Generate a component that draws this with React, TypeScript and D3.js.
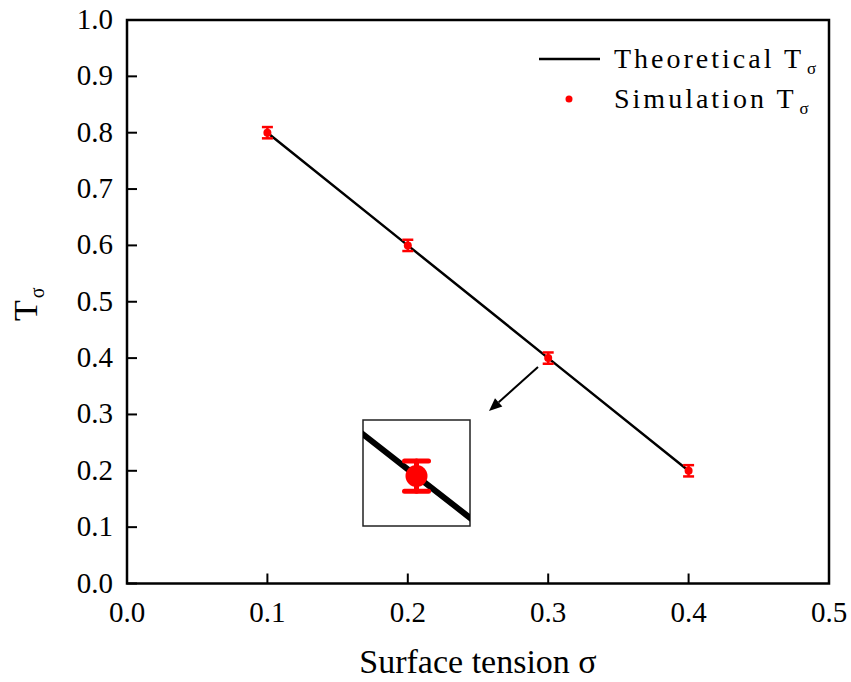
import React from "react";
import * as d3 from "d3";

const sigmaValues = [0.1, 0.2, 0.3, 0.4];
const theoreticalT = [0.8, 0.6, 0.4, 0.2];
const simulationT = [0.8, 0.6, 0.4, 0.2];
const simulationErr = [0.01, 0.01, 0.01, 0.01];
const xTicks = [0.0, 0.1, 0.2, 0.3, 0.4, 0.5];
const yTicks = [0.0, 0.1, 0.2, 0.3, 0.4, 0.5, 0.6, 0.7, 0.8, 0.9, 1.0];
const legendLabels = ["Theoretical T", "Simulation T"];
const insetIndex = 2;

const W = 851;
const H = 682;
const M = { left: 127, right: 829, top: 20, bottom: 583.5 };
const serif = "'Liberation Serif', 'Times New Roman', serif";

export default function App() {
  const x = d3.scaleLinear().domain([0, 0.5]).range([M.left, M.right]);
  const y = d3.scaleLinear().domain([0, 1]).range([M.bottom, M.top]);

  const pts = sigmaValues.map((s, i) => ({ s, t: theoreticalT[i], v: simulationT[i], e: simulationErr[i] }));
  const line = d3.line<{ s: number; t: number }>().x((d) => x(d.s)).y((d) => y(d.t));

  // inset
  const ins = { x0: 363, x1: 470, y0: 420, y1: 526 };
  const c = pts[insetIndex];
  const ix = d3.scaleLinear().domain([c.s - 0.0138, c.s + 0.0138]).range([ins.x0, ins.x1]);
  const iy = d3.scaleLinear().domain([0.367, 0.437]).range([ins.y1, ins.y0]);
  const iline = d3.line<{ s: number; t: number }>().x((d) => ix(d.s)).y((d) => iy(d.t));

  // arrow
  const a0 = { x: 538, y: 367 };
  const a1 = { x: 489, y: 411 };
  const ang = Math.atan2(a1.y - a0.y, a1.x - a0.x);
  const hl = 13, hw = 5.5;
  const bx = a1.x - hl * Math.cos(ang), by = a1.y - hl * Math.sin(ang);
  const head = `M${a1.x},${a1.y} L${bx + hw * Math.sin(ang)},${by - hw * Math.cos(ang)} L${bx - hw * Math.sin(ang)},${by + hw * Math.cos(ang)} Z`;

  const fmt = d3.format(".1f");

  return (
    <svg width={W} height={H} style={{ position: "absolute", left: 0, top: 0, background: "#fff" }}>
      <defs>
        <clipPath id="insClip">
          <rect x={ins.x0} y={ins.y0} width={ins.x1 - ins.x0} height={ins.y1 - ins.y0} />
        </clipPath>
      </defs>
      <rect x={0} y={0} width={W} height={H} fill="#fff" />

      {/* theoretical line */}
      <path d={line(pts) || ""} fill="none" stroke="#000" strokeWidth={2.5} />

      {/* simulation points with error bars */}
      {pts.map((d, i) => (
        <g key={i} stroke="#ff0000" strokeWidth={2.5}>
          <line x1={x(d.s)} x2={x(d.s)} y1={y(d.v - d.e)} y2={y(d.v + d.e)} />
          <line x1={x(d.s) - 5.5} x2={x(d.s) + 5.5} y1={y(d.v - d.e)} y2={y(d.v - d.e)} />
          <line x1={x(d.s) - 5.5} x2={x(d.s) + 5.5} y1={y(d.v + d.e)} y2={y(d.v + d.e)} />
          <circle cx={x(d.s)} cy={y(d.v)} r={4} fill="#ff0000" stroke="none" />
        </g>
      ))}

      {/* arrow */}
      <line x1={a0.x} y1={a0.y} x2={bx} y2={by} stroke="#000" strokeWidth={2} />
      <path d={head} fill="#000" />

      {/* inset */}
      <rect x={ins.x0} y={ins.y0} width={ins.x1 - ins.x0} height={ins.y1 - ins.y0} fill="#fff" stroke="#222" strokeWidth={1.5} />
      <g clipPath="url(#insClip)">
        <path d={iline(pts) || ""} fill="none" stroke="#000" strokeWidth={6} />
        <g stroke="#ff0000" strokeWidth={5} strokeLinecap="round">
          <line x1={ix(c.s)} x2={ix(c.s)} y1={iy(c.v - c.e)} y2={iy(c.v + c.e)} />
          <line x1={ix(c.s) - 12} x2={ix(c.s) + 12} y1={iy(c.v - c.e)} y2={iy(c.v - c.e)} />
          <line x1={ix(c.s) - 12} x2={ix(c.s) + 12} y1={iy(c.v + c.e)} y2={iy(c.v + c.e)} />
          <circle cx={ix(c.s)} cy={iy(c.v)} r={11} fill="#ff0000" stroke="none" />
        </g>
      </g>

      {/* frame */}
      <rect x={M.left} y={M.top} width={M.right - M.left} height={M.bottom - M.top} fill="none" stroke="#000" strokeWidth={2.5} />

      {/* y ticks */}
      {yTicks.map((t) => (
        <g key={"y" + t}>
          <line x1={M.left} x2={M.left + 10} y1={y(t)} y2={y(t)} stroke="#000" strokeWidth={2} />
          <text x={113} y={y(t) + 9} textAnchor="end" fontFamily={serif} fontSize={29} fill="#000">
            {fmt(t)}
          </text>
        </g>
      ))}

      {/* x ticks */}
      {xTicks.map((t) => (
        <g key={"x" + t}>
          <line x1={x(t)} x2={x(t)} y1={M.bottom} y2={M.bottom - 10} stroke="#000" strokeWidth={2} />
          <text x={x(t)} y={622} textAnchor="middle" fontFamily={serif} fontSize={29} fill="#000">
            {fmt(t)}
          </text>
        </g>
      ))}

      {/* axis titles */}
      <text x={478} y={673} textAnchor="middle" fontFamily={serif} fontSize={34} fill="#000">
        Surface tension σ
      </text>
      <text transform="translate(37,321) rotate(-90)" fontFamily={serif} fontSize={34} fill="#000">
        T
        <tspan dx={2} dy={7} fontSize={20}>σ</tspan>
      </text>

      {/* legend */}
      <line x1={539} x2={600} y1={59} y2={59} stroke="#000" strokeWidth={2.5} />
      <text x={614} y={68} fontFamily={serif} fontSize={28} letterSpacing={3} fill="#000">
        {legendLabels[0]}
        <tspan dx={3} dy={6} fontSize={17} letterSpacing={0}>σ</tspan>
      </text>
      <circle cx={569} cy={99} r={3.5} fill="#ff0000" />
      <text x={614} y={108} fontFamily={serif} fontSize={28} letterSpacing={3} fill="#000">
        {legendLabels[1]}
        <tspan dx={3} dy={6} fontSize={17} letterSpacing={0}>σ</tspan>
      </text>
    </svg>
  );
}
